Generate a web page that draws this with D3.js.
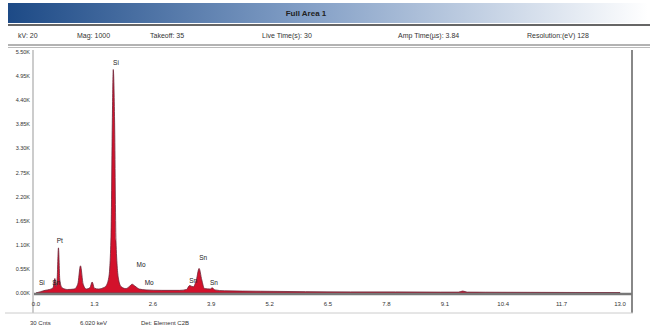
<!DOCTYPE html>
<html>
<head>
<meta charset="utf-8">
<script src="https://cdn.jsdelivr.net/npm/d3@7"></script>
<style>
  body { margin: 0; background: #fff; font-family: "Liberation Sans", Arial, sans-serif; }
  svg text { fill: #333; }
</style>
</head>
<body>
<div id="root"></div>
<script>
// spectrum (keV, counts)
const energies = [0.00, 0.10, 0.20, 0.30, 0.38, 0.42, 0.45, 0.47, 0.50, 0.53, 0.58, 0.70, 0.85, 0.93, 0.99, 1.05, 1.12, 1.20, 1.25, 1.30, 1.40, 1.50, 1.55, 1.62, 1.67, 1.70, 1.72, 1.75, 1.78, 1.84, 1.90, 2.00, 2.08, 2.14, 2.20, 2.30, 2.45, 2.80, 3.20, 3.35, 3.42, 3.50, 3.57, 3.63, 3.69, 3.75, 3.88, 3.92, 3.98, 4.20, 5.0, 6.0, 7.0, 8.0, 9.0, 9.40, 9.50, 9.60, 10.0, 11.0, 12.0, 13.0];
const counts   = [0, 30, 60, 80, 120, 330, 150, 300, 1030, 300, 120, 80, 90, 200, 620, 200, 90, 120, 250, 110, 90, 120, 150, 350, 1300, 4000, 5100, 3900, 1200, 300, 140, 100, 150, 200, 160, 90, 70, 60, 60, 80, 170, 140, 300, 560, 300, 100, 90, 120, 70, 50, 40, 30, 25, 25, 20, 20, 45, 20, 18, 15, 12, 10];

// peak labels
const labelNames = ["Si", "Sn", "Pt", "Si", "Mo", "Mo", "Sn", "Sn", "Sn"];
const labelKeV   = [0.13, 0.45, 0.53, 1.78, 2.34, 2.52, 3.50, 3.72, 3.96];
const labelCnt   = [230, 230, 1190, 5250, 640, 230, 270, 800, 230];

const xTicks = [0.0, 1.3, 2.6, 3.9, 5.2, 6.5, 7.8, 9.1, 10.4, 11.7, 13.0];
const yTicks = [0, 550, 1100, 1650, 2200, 2750, 3300, 3850, 4400, 4950, 5500];

const infoTexts = ["kV: 20", "Mag: 1000", "Takeoff: 35", "Live Time(s): 30", "Amp Time(µs): 3.84", "Resolution:(eV) 128"];
const infoX = [18, 77, 150, 262, 398, 527];
const footTexts = ["30 Cnts", "6.020 keV", "Det: Element C2B"];
const footX = [30, 80, 141];

const w = 656, h = 330;
const svg = d3.select('#root').append('svg').attr('width', w).attr('height', h);

// title bar
const grad = svg.append('defs').append('linearGradient').attr('id', 'bar');
grad.append('stop').attr('offset', '0%').attr('stop-color', '#1d4a86');
grad.append('stop').attr('offset', '45%').attr('stop-color', '#7f9cc4');
grad.append('stop').attr('offset', '100%').attr('stop-color', '#ffffff');
svg.append('rect').attr('x', 8).attr('y', 3).attr('width', 640).attr('height', 20).attr('fill', 'url(#bar)');
svg.append('text').attr('x', 306).attr('y', 16).attr('text-anchor', 'middle')
  .style('font-size', '8px').style('font-weight', 'bold').style('fill', '#222').text('Full Area 1');

// info row
svg.append('line').attr('x1', 8).attr('x2', 650).attr('y1', 25).attr('y2', 25).attr('stroke', '#333').attr('stroke-width', 1.5);
svg.selectAll('.info').data(infoTexts).enter().append('text')
  .attr('class', 'info').attr('x', (d, i) => infoX[i]).attr('y', 38)
  .style('font-size', '7px').text(d => d);
svg.append('line').attr('x1', 8).attr('x2', 650).attr('y1', 45).attr('y2', 45).attr('stroke', '#666').attr('stroke-width', 1);
svg.append('line').attr('x1', 8).attr('x2', 650).attr('y1', 47.5).attr('y2', 47.5).attr('stroke', '#bbb').attr('stroke-width', 1);

// scales
const xScale = d3.scaleLinear().domain([0, 13]).range([36, 620]);
const yScale = d3.scaleLinear().domain([0, 5500]).range([293, 52]);

// plot frame
svg.append('line').attr('x1', 33).attr('x2', 33).attr('y1', 50).attr('y2', 313).attr('stroke', '#999');
svg.append('line').attr('x1', 632).attr('x2', 632).attr('y1', 50).attr('y2', 313).attr('stroke', '#888').attr('stroke-width', 2);
svg.append('line').attr('x1', 5).attr('x2', 633).attr('y1', 313).attr('y2', 313).attr('stroke', '#ccc');

// spectrum
const area = d3.area()
  .x((d, i) => xScale(energies[i]))
  .y0(yScale(0))
  .y1(d => yScale(d))
  .curve(d3.curveMonotoneX);
svg.append('path').datum(counts).attr('d', area)
  .attr('fill', '#d3112b').attr('stroke', '#6d2638').attr('stroke-width', 0.8);

// baseline
svg.append('line').attr('x1', 34).attr('x2', 632).attr('y1', 294).attr('y2', 294).attr('stroke', '#777').attr('stroke-width', 2.5);

// y axis labels
svg.selectAll('.ylab').data(yTicks).enter().append('text')
  .attr('class', 'ylab').attr('x', 30).attr('y', d => yScale(d) + 2)
  .attr('text-anchor', 'end').style('font-size', '5.5px')
  .text(d => (d / 1000).toFixed(2) + 'K');

// x axis labels
svg.selectAll('.xlab').data(xTicks).enter().append('text')
  .attr('class', 'xlab').attr('x', d => xScale(d)).attr('y', 306)
  .attr('text-anchor', 'middle').style('font-size', '6px')
  .text(d => d.toFixed(1));

// peak labels
svg.selectAll('.peak').data(labelNames).enter().append('text')
  .attr('class', 'peak').attr('x', (d, i) => xScale(labelKeV[i])).attr('y', (d, i) => yScale(labelCnt[i]) + 2)
  .attr('text-anchor', 'middle').style('font-size', '6.5px').style('fill', '#222')
  .text(d => d);

// footer
svg.selectAll('.foot').data(footTexts).enter().append('text')
  .attr('class', 'foot').attr('x', (d, i) => footX[i]).attr('y', 325)
  .style('font-size', '6px').text(d => d);
</script>
</body>
</html>
